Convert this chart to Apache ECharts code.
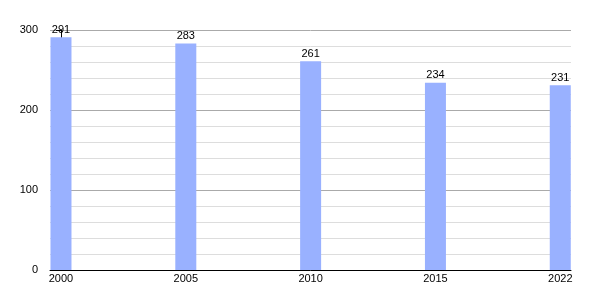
<!DOCTYPE html>
<html>
<head>
<meta charset="utf-8">
<script src="https://cdn.jsdelivr.net/npm/echarts@6/dist/echarts.min.js"></script>
<style>html,body{margin:0;padding:0;background:#fff}#c{width:600px;height:300px}</style>
</head>
<body>
<div id="c"></div>
<script>
const years = ['2000', '2005', '2010', '2015', '2022'];
const values = [291, 283, 261, 234, 231];
const yTicks = [0, 100, 200, 300];

const chart = echarts.init(document.getElementById('c'), null, {renderer: 'canvas'});
const font = '"Liberation Sans", Arial, sans-serif';
chart.setOption({
  animation: false,
  grid: {left: 50, right: 29, top: 30, bottom: 30},
  xAxis: {
    type: 'value',
    min: -0.088,
    max: 4.086,
    splitLine: {show: false},
    axisTick: {show: false},
    axisLine: {show: true, lineStyle: {color: '#000', width: 1}},
    axisLabel: {
      customValues: years.map((y, i) => i),
      formatter: v => years[Math.round(v)],
      color: '#000', fontSize: 11, fontFamily: font, margin: 3
    }
  },
  yAxis: {
    type: 'value',
    min: 0, max: 300, interval: 100,
    axisLine: {show: true, lineStyle: {color: '#000', width: 1}},
    axisTick: {show: true, length: 5, lineStyle: {color: '#000'}},
    minorTick: {show: true, splitNumber: 5, length: 3, lineStyle: {color: '#000'}},
    splitLine: {show: true, lineStyle: {color: '#aaaaaa', width: 1}},
    minorSplitLine: {show: true, lineStyle: {color: '#dddddd', width: 1}},
    axisLabel: {
      customValues: yTicks,
      color: '#000', fontSize: 11, fontFamily: font, margin: 12
    }
  },
  series: [{
    type: 'bar',
    barWidth: 21,
    data: values.map((v, i) => [i, v]),
    itemStyle: {color: '#99b1ff'},
    label: {
      show: true, position: 'top', distance: 2,
      color: '#000', fontSize: 11, fontFamily: font,
      formatter: p => p.value[1]
    }
  }]
});
</script>
</body>
</html>
